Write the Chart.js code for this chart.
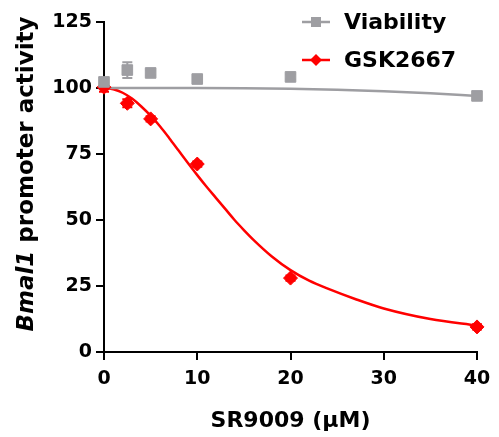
<!DOCTYPE html>
<html>
<head>
<meta charset="utf-8">
<script src="https://cdn.jsdelivr.net/npm/chart.js@4"></script>
<style>
  html, body { margin: 0; padding: 0; background: #fff; }
  #wrap { width: 499px; height: 437px; }
</style>
</head>
<body>
<div id="wrap"><canvas id="chart" width="499" height="437"></canvas></div>
<script>
// measured points
const doses = [0, 2.5, 5, 10, 20, 40];
const viability = [102.3, 106.8, 105.7, 103.4, 104.2, 97];
const viabilityErr = [1, 3, 1, 1, 1, 1];
const gsk = [100.3, 94.2, 88.3, 71.2, 28, 9.5];
const gskErr = [1.7, 1.5, 1, 1, 1, 1];

// fitted curves
const viabFitX = [0, 5, 10, 15, 20, 25, 30, 35, 40];
const viabFit = [100, 100, 100, 99.9, 99.7, 99.3, 98.8, 98, 97];
const gskFitX = [0, 1, 2, 3, 4, 5, 6, 7, 8, 9, 10, 11, 12, 13, 14, 15, 16, 18, 20, 22, 24, 27, 30, 35, 40];
const gskFit = [100, 99.5, 98.2, 96, 93, 89.5, 85.5, 81, 76.3, 71.6, 67, 62.6, 58.4, 54.2, 50, 46.2, 42.6, 36.2, 31, 27, 24, 20, 16.5, 12.5, 10];

const xTicks = [0, 10, 20, 30, 40];
const yTicks = [0, 25, 50, 75, 100, 125];

const GREY = '#9e9ea2';
const RED = '#ff0000';
const FONT = 'DejaVu Sans';

function pts(xs, ys) {
    return xs.map((x, i) => ({ x: x, y: ys[i] }));
}

// error bars go under the markers
const errorBars = {
    id: 'errorBars',
    beforeDatasetsDraw(chart) {
        const ctx = chart.ctx;
        const xs = chart.scales.x, ys = chart.scales.y;
        const sets = [[gsk, gskErr, RED], [viability, viabilityErr, GREY]];
        ctx.save();
        ctx.lineWidth = 2;
        sets.forEach(([vals, errs, col]) => {
            ctx.strokeStyle = col;
            vals.forEach((v, i) => {
                const px = xs.getPixelForValue(doses[i]);
                const top = ys.getPixelForValue(v + errs[i]);
                const bot = ys.getPixelForValue(v - errs[i]);
                ctx.beginPath();
                ctx.moveTo(px, top); ctx.lineTo(px, bot);
                ctx.moveTo(px - 5, top); ctx.lineTo(px + 5, top);
                ctx.moveTo(px - 5, bot); ctx.lineTo(px + 5, bot);
                ctx.stroke();
            });
        });
        ctx.restore();
    }
};

const extras = {
    id: 'extras',
    afterDraw(chart) {
        const ctx = chart.ctx;
        const area = chart.chartArea;
        ctx.save();
        ctx.fillStyle = '#000';

        // x title
        ctx.font = 'bold 22px ' + FONT;
        ctx.textAlign = 'center';
        ctx.textBaseline = 'alphabetic';
        ctx.fillText('SR9009 (µM)', (area.left + area.right) / 2, 427);

        // y title with italic gene name
        ctx.save();
        ctx.translate(33, 174);
        ctx.rotate(-Math.PI / 2);
        ctx.textAlign = 'left';
        const itFont = 'italic bold 23px ' + FONT;
        const rgFont = 'bold 23px ' + FONT;
        ctx.font = itFont;
        const w1 = ctx.measureText('Bmal1').width;
        ctx.font = rgFont;
        const w2 = ctx.measureText(' promoter activity').width;
        let start = -(w1 + w2) / 2;
        ctx.font = itFont;
        ctx.fillText('Bmal1', start, 0);
        ctx.font = rgFont;
        ctx.fillText(' promoter activity', start + w1, 0);
        ctx.restore();

        // legend
        const items = [
            { label: 'Viability', color: GREY, y: 22, style: 'rect' },
            { label: 'GSK2667', color: RED, y: 60, style: 'diamond' }
        ];
        items.forEach(it => {
            ctx.strokeStyle = it.color;
            ctx.fillStyle = it.color;
            ctx.lineWidth = 2.5;
            ctx.beginPath();
            ctx.moveTo(302, it.y); ctx.lineTo(330, it.y);
            ctx.stroke();
            ctx.beginPath();
            if (it.style === 'rect') {
                ctx.rect(311, it.y - 5, 10, 10);
            } else {
                ctx.moveTo(316, it.y - 6); ctx.lineTo(322, it.y);
                ctx.lineTo(316, it.y + 6); ctx.lineTo(310, it.y);
                ctx.closePath();
            }
            ctx.fill();
            ctx.fillStyle = '#000';
            ctx.font = 'bold 22px ' + FONT;
            ctx.textAlign = 'left';
            ctx.textBaseline = 'middle';
            ctx.fillText(it.label, 344, it.y + 1);
        });
        ctx.restore();
    }
};

const ctx = document.getElementById('chart').getContext('2d');
new Chart(ctx, {
    type: 'scatter',
    data: {
        datasets: [
            {
                label: 'Viability',
                data: pts(doses, viability),
                backgroundColor: GREY,
                borderColor: GREY,
                pointStyle: 'rect',
                pointRadius: 7.5,
                showLine: false,
                clip: false,
                order: 0
            },
            {
                label: 'GSK2667',
                data: pts(doses, gsk),
                backgroundColor: RED,
                borderColor: RED,
                pointStyle: 'rectRot',
                pointRadius: 7,
                showLine: false,
                clip: false,
                order: 1
            },
            {
                label: 'Viability fit',
                data: pts(viabFitX, viabFit),
                borderColor: GREY,
                borderWidth: 2.5,
                pointRadius: 0,
                showLine: true,
                clip: false,
                cubicInterpolationMode: 'monotone',
                order: 2
            },
            {
                label: 'GSK2667 fit',
                data: pts(gskFitX, gskFit),
                borderColor: RED,
                borderWidth: 2.5,
                pointRadius: 0,
                showLine: true,
                clip: false,
                cubicInterpolationMode: 'monotone',
                order: 3
            }
        ]
    },
    options: {
        responsive: false,
        animation: false,
        layout: { padding: { top: 22, right: 22, left: 0, bottom: 0 } },
        plugins: {
            legend: { display: false },
            tooltip: { enabled: false }
        },
        scales: {
            x: {
                type: 'linear',
                min: 0,
                max: 40,
                afterBuildTicks: s => { s.ticks = xTicks.map(v => ({ value: v })); },
                afterFit: s => { s.height = 85; },
                grid: { drawOnChartArea: false, drawTicks: true, tickLength: 8, color: '#000', lineWidth: 2 },
                border: { display: true, color: '#000', width: 2 },
                ticks: { color: '#000', font: { family: FONT, size: 19, weight: 'bold' }, padding: 8, maxRotation: 0 }
            },
            y: {
                type: 'linear',
                min: 0,
                max: 125,
                afterBuildTicks: s => { s.ticks = yTicks.map(v => ({ value: v })); },
                afterFit: s => { s.width = 104; },
                grid: { drawOnChartArea: false, drawTicks: true, tickLength: 8, color: '#000', lineWidth: 2 },
                border: { display: true, color: '#000', width: 2 },
                ticks: { color: '#000', font: { family: FONT, size: 19, weight: 'bold' }, padding: 4 }
            }
        }
    },
    plugins: [errorBars, extras]
});
</script>
</body>
</html>
